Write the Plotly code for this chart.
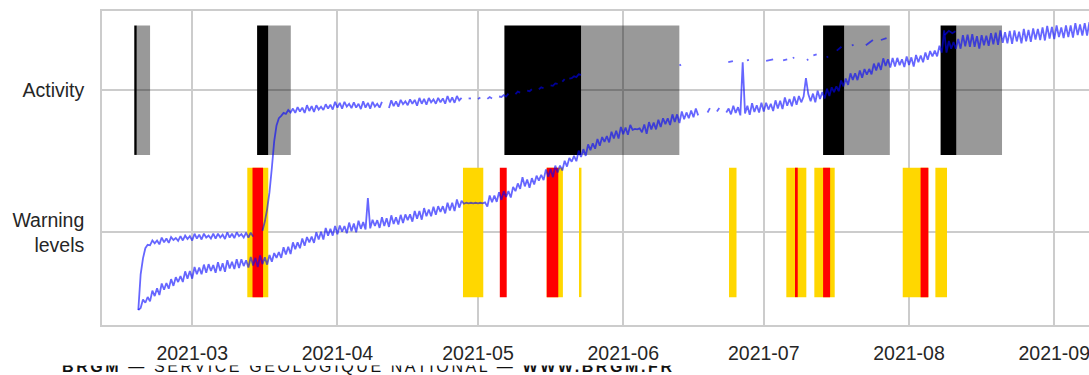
import pandas as pd
import plotly.graph_objects as go

# ---------------- data ----------------
rows = ["Warning<br>levels", "Activity"]
row_pos = [0, 1]

activity_black_start = ["2021-02-16 15:20", "2021-03-14 20:30", "2021-05-06 15:20", "2021-07-13 15:50", "2021-08-07 17:45"]
activity_black_end   = ["2021-02-17 04:00", "2021-03-17 05:45", "2021-05-23 00:15", "2021-07-18 04:00", "2021-08-11 02:40"]
activity_grey_start  = ["2021-02-17 04:00", "2021-03-17 05:45", "2021-05-23 00:15", "2021-07-18 04:00", "2021-08-11 02:40"]
activity_grey_end    = ["2021-02-20 00:15", "2021-03-22 01:10", "2021-06-12 23:30", "2021-07-27 21:40", "2021-08-20 20:25"]

warn_yellow_start = ["2021-03-12 18:15", "2021-04-27 19:10", "2021-05-15 16:00", "2021-05-22 18:00", "2021-06-23 14:00",
                     "2021-07-05 19:30", "2021-07-11 19:00", "2021-07-30 15:50", "2021-08-06 15:00"]
warn_yellow_end   = ["2021-03-17 05:45", "2021-05-02 03:10", "2021-05-19 03:00", "2021-05-23 02:00", "2021-06-25 04:20",
                     "2021-07-10 02:00", "2021-07-16 03:20", "2021-08-05 03:00", "2021-08-09 02:40"]
warn_red_start = ["2021-03-13 21:00", "2021-05-05 15:50", "2021-05-15 16:00", "2021-07-07 20:00", "2021-07-13 15:50", "2021-08-03 11:20"]
warn_red_end   = ["2021-03-16 03:10", "2021-05-07 03:10", "2021-05-18 03:20", "2021-07-08 06:00", "2021-07-15 03:50", "2021-08-05 03:00"]

# displacement-like curves (secondary axis), 12 h sampling from 2021-02-17 12:00
series_start = "2021-02-17 12:00"
lower_values = [
    -0.9,
    -0.5, 1.3, 0.6, 1.8, 0.9, 3.1, 2.0, 3.6, 2.2, 4.6, 3.3, 4.7, 3.5, 5.5, 4.1, 5.9, 4.9, 6.1, 4.9, 7.1, 5.6, 7.2,
    5.6, 8.0, 6.5, 7.9, 6.5, 8.5, 6.8, 8.6, 7.2, 8.4, 6.8, 9.0, 7.2, 8.8, 7.0, 9.4, 7.7, 9.1, 7.6, 9.6, 7.8, 9.6,
    8.2, 9.4, 7.9, 10.1, 8.3, 9.9, 8.0, 10.4, 8.6, 10.0, 8.5, 10.5, 9.1, 10.9, 9.9, 11.1, 9.9, 12.1, 10.6, 12.2,
    10.7, 13.1, 11.7, 13.1, 11.9, 13.9, 12.4, 14.2, 13.1, 14.3, 13.0, 15.2, 13.7, 15.3, 13.7, 16.1, 14.5, 15.9,
    14.5, 16.5, 14.8, 16.6, 15.3, 16.5, 15.0, 17.2, 15.4, 17.0, 15.2, 17.6, 15.9, 17.3, 15.8, 22.3, 16.0, 17.8,
    16.5, 17.7, 16.1, 18.3, 16.5, 18.1, 16.3, 18.7, 16.9, 18.3, 16.8, 18.8, 17.1, 18.9, 17.7, 18.9, 17.4, 19.6,
    18.0, 19.6, 17.8, 20.2, 18.5, 19.9, 18.5, 20.5, 18.8, 20.6, 19.4, 20.6, 19.1, 21.3, 19.7, 21.3, 19.6, 22.0,
    20.3, 21.7, 21.1, 21.3, 21.2, 21.3, 21.2, 21.3, 21.2, 21.3, 21.2, 21.4, 20.5, 22.8, 21.4, 22.8, 21.5, 23.5,
    21.9, 23.7, 22.5, 23.7, 22.4, 24.6, 23.7, 25.3, 24.2, 26.6, 24.7, 26.1, 24.4, 26.4, 25.1, 26.9, 25.9, 27.1,
    26.0, 28.2, 26.7, 28.3, 26.6, 29.0, 27.6, 29.0, 28.0, 30.0, 28.8, 30.6, 29.8, 31.0, 29.9, 32.1, 30.8, 32.4,
    31.0, 33.4, 32.2, 33.6, 32.5, 34.5, 33.1, 34.9, 33.9, 35.1, 33.8, 36.0, 34.6, 36.2, 34.6, 37.0, 35.5, 36.9,
    35.4, 37.4, 36.4, 36.6, 36.5, 36.7, 35.9, 37.5, 35.6, 38.0, 36.5, 37.9, 36.5, 38.5, 37.0, 38.8, 37.6, 38.8,
    37.4, 39.6, 38.0, 39.6, 37.8, 40.2, 38.6, 40.0, 38.8, 40.4, 39.0, 40.8, 39.4, None, None, None, 40.0, 40.9,
    None, None, 40.2, 40.9, None, None, 40.0, 40.8, 39.6, 41.4, 39.9, 41.1, 39.4, 50.4, 39.8, 41.4, 39.5, 41.9,
    40.1, 41.5, 40.0, 42.0, 40.2, 42.0, 40.6, 41.8, 40.3, 42.5, 40.8, 42.4, 40.7, 43.1, 41.4, 42.8, 41.3, 43.3,
    41.6, 43.4, 42.1, 43.3, 47.1, 43.8, 42.3, 43.9, 42.1, 44.5, 42.8, 44.2, 42.9, 44.9, 43.4, 45.2, 44.2, 45.4,
    44.4, 46.6, 45.4, 47.0, 45.7, 48.1, 46.7, 48.1, 46.7, 48.7, 47.2, 49.0, 47.8, 49.0, 47.9, 50.1, 48.7, 50.3,
    48.8, 51.2, 49.6, 51.0, 49.3, 51.3, 49.5, 51.3, 49.8, 51.0, 49.4, 51.6, 49.8, 51.4, 49.5, 51.9, 50.4, 51.8,
    50.4, 52.4, 50.9, 52.7, 51.6, 52.8, 51.6, 53.8, 52.4, 57.0, 52.4, 54.8, 53.2, 54.6, 53.2, 55.2, 53.2, 56.0,
    53.7, 56.1, 53.6, 56.2, 53.6, 55.8, 53.2, 56.0, 53.9, 55.9, 53.8, 56.4, 54.1, 56.5, 54.0, 57.0, 54.4, 56.6,
    54.3, 56.9, 54.2, 57.0, 54.7, 56.7, 54.3, 57.3, 54.7, 57.1, 54.6, 57.4, 55.1, 57.3, 55.0, 57.6, 54.9, 57.9,
    55.3, 57.7, 55.2, 58.0, 55.6, 57.6, 55.4, 58.0, 55.6, 58.0, 55.5, 58.5, 56.0, 58.2, 55.9, 58.5, 55.9, 58.7,
]
upper_values = [
    -0.9,
    6.5, 9.8, 11.9, 12.6, 12.5, 13.5, 12.9, 13.5, 12.7, 14.1, 13.1, 13.9, 13.0, 14.2, 13.6, 14.0, 13.4, 14.4,
    13.5, 14.5, 13.8, 14.4, 13.5, 14.9, 13.9, 14.7, 13.7, 14.9, 14.1, 14.5, 13.9, 14.9, 13.9, 14.9, 14.1, 14.7,
    13.8, 15.2, 14.1, 14.9, 14.0, 15.2, 14.4, 14.8, 14.1, 15.1, 14.1, 15.1, 14.3, None, None, None, 15.5, 17.4,
    20.0, 23.5, 28.5, 34.0, 37.3, 38.8, 39.3, 39.9, 39.7, 40.5, 40.0, 40.8, 39.9, 41.1, 40.2, 41.0, 39.9, 41.5,
    40.3, 41.3, 40.1, 41.5, 40.6, 41.2, 40.5, 41.7, 40.8, 41.6, 40.6, 42.2, 41.0, 42.0, 40.8, 42.2, 41.2, 41.8,
    40.9, 42.1, 41.0, 41.8, 40.7, 42.3, 41.0, 42.0, 40.8, 42.2, 41.2, 41.8, 41.0, 42.2, None, None, 40.9, 42.5,
    41.3, 42.3, 41.2, 42.6, 41.7, 42.3, 41.5, 42.7, 41.8, 42.6, 41.4, 43.0, 41.8, 42.8, 41.6, 43.0, 42.1, 42.7,
    41.8, 43.0, 42.1, 42.9, 41.8, 43.4, 42.1, 43.1, 42.0, 43.4, 42.5, 43.0, None, None, 42.9, 42.9, None, None,
    42.8, 43.1, None, None, 42.8, 43.2, 42.9, None, None, 43.3, 43.2, 43.6, 43.3, 43.9, None, None, 43.8, 44.3,
    44.1, None, None, 44.5, 44.4, 44.8, None, None, 44.8, 45.2, 45.0, None, None, 45.6, 45.5, 46.0, 45.9, None,
    46.4, 46.9, None, 47.0, 47.1, 47.5, 47.3, 47.9, 47.8,
]
upper_sparse_times = [
    "2021-06-13 00:00", "2021-06-13 08:00", None, "2021-06-23 10:00", "2021-06-24 10:00", None,
    "2021-06-27 10:00", "2021-06-27 20:00", None, "2021-07-01 12:00", "2021-07-03 00:00", None,
    "2021-07-05 03:00", "2021-07-06 00:00", None, "2021-07-07 05:00", "2021-07-07 12:00", None,
    "2021-07-10 05:00", "2021-07-10 12:00", None, "2021-07-11 14:00", "2021-07-12 07:00", None,
    "2021-07-14 10:00", "2021-07-14 18:00", None, "2021-07-16 14:00", "2021-07-17 14:00", None,
    "2021-07-19 19:00", "2021-07-20 04:00", None, "2021-07-22 19:00", "2021-07-24 07:00", None,
    "2021-07-26 00:00", "2021-07-27 05:00", None, "2021-08-08 14:00", "2021-08-09 12:00",
    "2021-08-10 06:00", "2021-08-10 22:00",
]
upper_sparse_values = [
    49.7, 49.9, None, 50.4, 50.6, None, 50.8, 50.9, None, 50.7, 51.0, None, 50.8, 51.0, None,
    51.2, 51.4, None, 50.8, 51.0, None, 51.8, 52.0, None, 51.4, 51.6, None, 52.8, 53.6, None,
    53.9, 54.0, None, 53.9, 55.0, None, 55.0, 55.4, None, 56.0, 56.9, 56.4, 56.8,
]

x_range = ["2021-02-09 18:00", "2021-09-08 10:00"]
footer_text = "<b>BRGM</b> — SERVICE GÉOLOGIQUE NATIONAL — <b>WWW.BRGM.FR</b>"

# ---------------- figure ----------------
FONT = "Liberation Sans, Arial, sans-serif"
TXT = "#262626"
GRID = "#cccccc"
W, H = 1089, 375
TOP, AREA_H = 11, 364
BOTTOM_PX = 50
FOOT_PX = 9.5


def ms(starts, ends):
    s = pd.to_datetime(pd.Series(starts))
    e = pd.to_datetime(pd.Series(ends))
    return list((e - s).dt.total_seconds() * 1000.0)


def bars(starts, ends, ypos, color, name):
    return go.Bar(
        base=starts, x=ms(starts, ends), y=[ypos] * len(starts), orientation="h",
        width=0.91, marker=dict(color=color, line=dict(width=0)), name=name,
        showlegend=False, hoverinfo="skip", xaxis="x", yaxis="y",
    )


fig = go.Figure()
fig.add_trace(bars(activity_black_start, activity_black_end, row_pos[1], "#000000", "activity"))
fig.add_trace(bars(activity_grey_start, activity_grey_end, row_pos[1], "rgba(0,0,0,0.4)", "activity decay"))
fig.add_trace(bars(warn_yellow_start, warn_yellow_end, row_pos[0], "#FFD700", "yellow"))
fig.add_trace(bars(warn_red_start, warn_red_end, row_pos[0], "#FF0000", "red"))

lower_t = pd.date_range(series_start, periods=len(lower_values), freq="12h")
upper_t = pd.date_range(series_start, periods=len(upper_values), freq="12h")
line_style = dict(color="rgba(0,0,255,0.6)", width=1.8)
fig.add_trace(go.Scatter(x=lower_t, y=lower_values, mode="lines", line=line_style,
                         xaxis="x", yaxis="y2", showlegend=False, hoverinfo="skip"))
fig.add_trace(go.Scatter(x=upper_t, y=upper_values, mode="lines", line=line_style,
                         xaxis="x", yaxis="y2", showlegend=False, hoverinfo="skip"))
fig.add_trace(go.Scatter(x=upper_sparse_times, y=upper_sparse_values, mode="lines", line=line_style,
                         xaxis="x", yaxis="y2", showlegend=False, hoverinfo="skip"))

# footer (its upper part is hidden: clipped to a thin strip at the bottom of the page)
fig.add_trace(go.Scatter(
    x=[62], y=[0.69], mode="text", text=[f"<span style='letter-spacing:2.6px'>{footer_text}</span>"],
    textposition="middle right", textfont=dict(family=FONT, size=16, color="#111111"),
    cliponaxis=True, xaxis="x3", yaxis="y3", showlegend=False, hoverinfo="skip",
))

main_y_dom = [BOTTOM_PX / AREA_H, 1.0]
fig.update_layout(
    width=W, height=H, template="none",
    margin=dict(l=0, r=0, t=TOP, b=0, pad=0),
    paper_bgcolor="white", plot_bgcolor="white",
    barmode="overlay", showlegend=False,
    font=dict(family=FONT, size=19.5, color=TXT),
    xaxis=dict(
        type="date", domain=[102 / W, 1.0], range=x_range,
        tickformat="%Y-%m", dtick="M1", tick0="2021-03-01",
        showgrid=True, gridcolor=GRID, gridwidth=1.6,
        showline=True, linecolor=GRID, linewidth=1.6, mirror=True,
        ticks="", ticklabelstandoff=10, ticklabeloverflow="allow",
        zeroline=False, automargin=False,
        tickfont=dict(family=FONT, size=19.5, color=TXT), anchor="y",
    ),
    yaxis=dict(
        domain=main_y_dom, range=[-0.651, 1.557], tickvals=row_pos, ticktext=rows,
        showgrid=True, gridcolor=GRID, gridwidth=1.6,
        showline=True, linecolor=GRID, linewidth=1.6, mirror=False,
        ticks="", ticklabelstandoff=12, zeroline=False, automargin=False,
        tickfont=dict(family=FONT, size=19.5, color=TXT), anchor="x",
    ),
    yaxis2=dict(overlaying="y", range=[-4, 61], visible=False, showgrid=False, zeroline=False),
    xaxis3=dict(domain=[0, 1], range=[0, W], visible=False, anchor="y3"),
    yaxis3=dict(domain=[0, FOOT_PX / AREA_H], range=[0, 1], visible=False, anchor="x3"),
)

fig.write_html(
    "out.html",
    config={"displayModeBar": False},
    post_script="document.body.style.margin='0';document.body.style.overflow='hidden';",
)
